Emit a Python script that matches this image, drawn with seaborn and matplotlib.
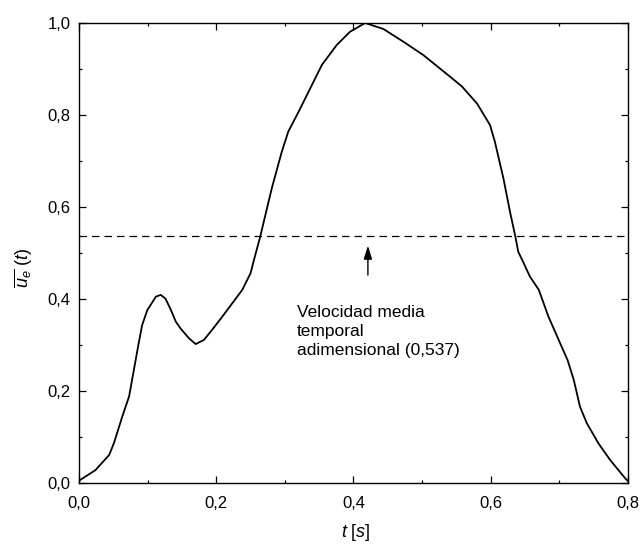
import matplotlib
matplotlib.use("Agg")
import matplotlib.pyplot as plt
import seaborn as sns
import pandas as pd
from matplotlib.ticker import MultipleLocator, FuncFormatter

t = [0.000, 0.024, 0.044, 0.051, 0.063, 0.073, 0.080, 0.087, 0.092, 0.0996,
     0.112, 0.119, 0.126, 0.134, 0.141, 0.148, 0.160, 0.170, 0.182, 0.194,
     0.209, 0.2235, 0.238, 0.250, 0.255, 0.264, 0.281, 0.2955, 0.305, 0.320,
     0.337, 0.354, 0.3755, 0.395, 0.417, 0.4435, 0.473, 0.502, 0.526, 0.541,
     0.558, 0.580, 0.599, 0.606, 0.6185, 0.628, 0.636, 0.640, 0.648, 0.657,
     0.670, 0.684, 0.699, 0.712, 0.721, 0.730, 0.740, 0.757, 0.774, 0.796, 0.800]
u = [0.005, 0.028, 0.061, 0.087, 0.144, 0.188, 0.246, 0.304, 0.343, 0.376,
     0.405, 0.409, 0.401, 0.376, 0.351, 0.336, 0.315, 0.302, 0.311, 0.333,
     0.362, 0.391, 0.420, 0.456, 0.485, 0.535, 0.641, 0.720, 0.764, 0.807,
     0.858, 0.909, 0.952, 0.981, 1.000, 0.987, 0.959, 0.930, 0.901, 0.883,
     0.862, 0.825, 0.778, 0.742, 0.662, 0.590, 0.535, 0.503, 0.478, 0.449,
     0.420, 0.362, 0.311, 0.267, 0.224, 0.166, 0.130, 0.086, 0.050, 0.010, 0.004]
mean_value = 0.537
annotation = "Velocidad media\ntemporal\nadimensional (0,537)"

sns.set_style("ticks")
plt.rcParams["font.family"] = ["Liberation Sans", "DejaVu Sans"]
plt.rcParams["mathtext.fontset"] = "custom"
plt.rcParams["mathtext.rm"] = "Liberation Sans"
plt.rcParams["mathtext.it"] = "Liberation Sans:italic"
plt.rcParams["text.color"] = "black"
plt.rcParams["axes.labelcolor"] = "black"

df = pd.DataFrame({"t": t, "u": u})

fig = plt.figure(figsize=(6.4, 5.5), dpi=100)
ax = fig.add_axes([0.1234, 0.1218, 0.98125 - 0.1234, 0.9582 - 0.1218])
sns.lineplot(data=df, x="t", y="u", ax=ax, color="black", lw=1.3, sort=False)
ax.axhline(mean_value, color="black", lw=0.9, ls=(0, (6, 4)))

ax.annotate("", xy=(0.421, 0.522), xytext=(0.421, 0.446),
            arrowprops=dict(arrowstyle="-|>,head_length=0.8,head_width=0.25",
                            color="black", lw=1.0))
ax.text(0.318, 0.330, annotation, fontsize=12.5, va="center", ha="left",
        linespacing=1.35, color="black")

ax.set_xlim(0, 0.8)
ax.set_ylim(0, 1.0)
ax.xaxis.set_major_locator(MultipleLocator(0.2))
ax.xaxis.set_minor_locator(MultipleLocator(0.1))
ax.yaxis.set_major_locator(MultipleLocator(0.2))
ax.yaxis.set_minor_locator(MultipleLocator(0.1))
fmt = FuncFormatter(lambda v, p: f"{v:.1f}".replace(".", ","))
ax.xaxis.set_major_formatter(fmt)
ax.yaxis.set_major_formatter(fmt)
ax.tick_params(which="both", direction="in", top=True, right=True,
               colors="black", labelsize=12, width=0.9)
ax.tick_params(which="major", length=5)
ax.tick_params(axis="x", which="major", pad=9)
ax.tick_params(axis="y", which="major", pad=6)
ax.tick_params(which="minor", length=2.5)
for s in ax.spines.values():
    s.set_visible(True)
    s.set_linewidth(1.0)
    s.set_color("black")

ax.set_xlabel(r"$t\ [s]$", fontsize=13)
ax.set_ylabel(r"$\overline{u_e}\ (t)$", fontsize=13)
ax.xaxis.set_label_coords(0.505, -0.107)
ax.xaxis.label.set_verticalalignment("center")
ax.yaxis.set_label_coords(-0.10, 0.467)
ax.yaxis.label.set_verticalalignment("center")

fig.savefig("out.png", dpi=100)
